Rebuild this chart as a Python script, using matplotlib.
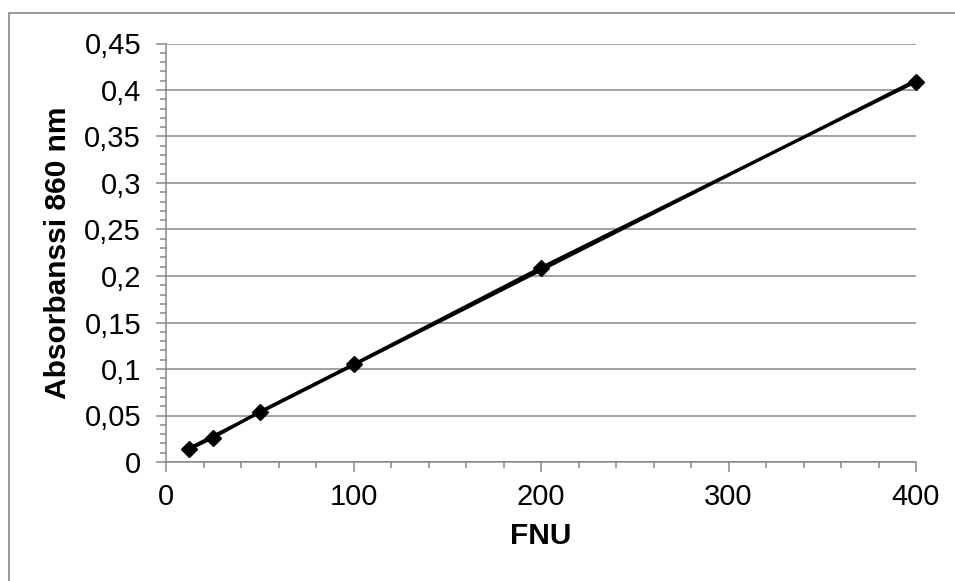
import matplotlib
matplotlib.use("Agg")
import matplotlib.pyplot as plt
import numpy as np
from matplotlib.ticker import MultipleLocator, FuncFormatter
from matplotlib.patches import Rectangle

fnu = [12.5, 25, 50, 100, 200, 400]
absorbance = [0.014, 0.026, 0.054, 0.105, 0.209, 0.409]
x_label = "FNU"
y_label = "Absorbanssi 860 nm"

plt.rcParams['font.family'] = ['Liberation Sans', 'DejaVu Sans']

W, H = 955, 581
fig = plt.figure(figsize=(W / 100, H / 100), dpi=100)
ax = fig.add_axes([166 / W, (H - 462) / H, (916 - 166) / W, (462 - 43.5) / H])

grid_c = '#888888'
# trendline (linear fit of the data)
coef = np.polyfit(fnu, absorbance, 1)
xt = np.array([min(fnu), max(fnu)])
ax.plot(xt, np.polyval(coef, xt), color='black', lw=2.2, zorder=3)
ax.plot(fnu, absorbance, color='black', lw=2.2, marker='D', ms=8.5,
        zorder=4, clip_on=False)

ax.set_xlim(0, 400)
ax.set_ylim(0, 0.45)
ax.xaxis.set_major_locator(MultipleLocator(100))
ax.xaxis.set_minor_locator(MultipleLocator(20))
ax.yaxis.set_major_locator(MultipleLocator(0.05))
ax.yaxis.set_minor_locator(MultipleLocator(0.01))

fmt = FuncFormatter(lambda v, p: ('%g' % round(v, 4)).replace('.', ','))
ax.yaxis.set_major_formatter(fmt)

ax.grid(axis='y', which='major', color=grid_c, lw=1.1, zorder=1)
for s in ['top', 'right']:
    ax.spines[s].set_visible(False)
for s in ['left', 'bottom']:
    ax.spines[s].set_color(grid_c)
    ax.spines[s].set_linewidth(1.1)

ax.tick_params(which='major', direction='out', length=7, width=1.1, color=grid_c,
               labelsize=21, pad=8)
ax.tick_params(which='minor', direction='out', length=4.5, width=1.1, color=grid_c)
ax.tick_params(axis='y', which='major', pad=11)

ax.set_xlabel(x_label, fontsize=21.5, fontweight='bold', labelpad=8)
ax.set_ylabel(y_label, fontsize=21.5, fontweight='bold', labelpad=9)

fig.patches.append(Rectangle((9 / W, -0.1), 1.2, (H - 13) / H + 0.1,
                             transform=fig.transFigure, fill=False,
                             edgecolor=grid_c, lw=1.2))

fig.savefig('out.png', dpi=100)
